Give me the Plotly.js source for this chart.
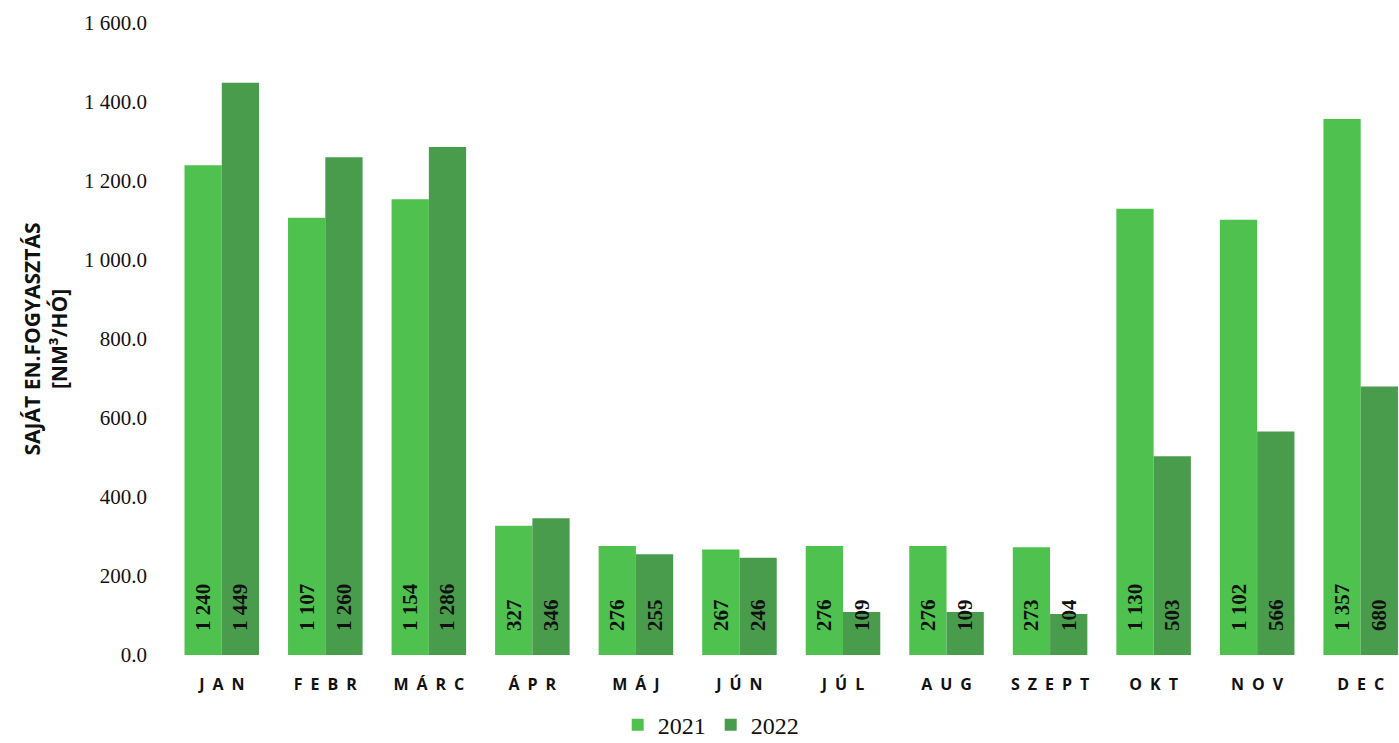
<!DOCTYPE html>
<html>
<head>
<meta charset="utf-8">
<script src="https://cdn.plot.ly/plotly-3.0.1.min.js"></script>
<style>html,body{margin:0;padding:0;background:#fff;}#chart{width:1399px;height:743px;}</style>
</head>
<body>
<div id="chart"></div>
<script>
const categories = ["JAN", "FEBR", "MÁRC", "ÁPR", "MÁJ", "JÚN", "JÚL", "AUG", "SZEPT", "OKT", "NOV", "DEC"];
const values2021 = [1240, 1107, 1154, 327, 276, 267, 276, 276, 273, 1130, 1102, 1357];
const values2022 = [1449, 1260, 1286, 346, 255, 246, 109, 109, 104, 503, 566, 680];
const yTicks = [0, 200, 400, 600, 800, 1000, 1200, 1400, 1600];

const spaced = categories.map(c => c.split("").join("\u2009\u2009\u2009"));

const labelFont = {family: "Liberation Serif, Times New Roman, serif", size: 21, color: "#111", weight: "bold"};

function barTrace(name, vals, color) {
  return {
    type: "bar",
    name: name,
    x: spaced,
    y: vals,
    marker: {color: color},
    texttemplate: "\u2007\u2007%{y:,}",
    textposition: "inside",
    insidetextanchor: "start",
    textangle: -90,
    constraintext: "none",
    insidetextfont: labelFont,
    hoverinfo: "x+y"
  };
}

const data = [
  barTrace("2021", values2021, "#4fc14f"),
  barTrace("2022", values2022, "#4a9c4d")
];

const layout = {
  width: 1399,
  height: 743,
  margin: {l: 170, r: 0, t: 23, b: 88},
  paper_bgcolor: "#fff",
  plot_bgcolor: "#fff",
  separators: ". ",
  barmode: "group",
  bargap: 0.28,
  bargroupgap: 0,
  showlegend: true,
  xaxis: {
    range: [-0.5, 11.37],
    showgrid: false,
    zeroline: false,
    showline: false,
    ticks: "",
    tickfont: {family: "Open Sans, Lato, sans-serif", size: 16, color: "#111", weight: "bold"},
    ticklabelstandoff: 18
  },
  yaxis: {
    range: [0, 1600],
    tickvals: yTicks,
    tickformat: ",.1f",
    showgrid: false,
    zeroline: false,
    showline: false,
    ticks: "",
    ticklabelstandoff: 22,
    tickfont: {family: "Liberation Serif, Times New Roman, serif", size: 21, color: "#111"},
    title: {
      text: "SAJÁT EN.FOGYASZTÁS<br>[NM³/HÓ]",
      font: {family: "Open Sans, Lato, sans-serif", size: 21, color: "#111", weight: "bold"},
      standoff: 10
    }
  },
  legend: {
    orientation: "h",
    xref: "container",
    yref: "container",
    x: 0.508,
    xanchor: "center",
    y: 0.024,
    yanchor: "middle",
    font: {family: "Liberation Serif, Times New Roman, serif", size: 24, color: "#111"},
    itemwidth: 30,
    traceorder: "normal"
  }
};

Plotly.newPlot("chart", data, layout, {displayModeBar: false, responsive: false});
</script>
</body>
</html>
